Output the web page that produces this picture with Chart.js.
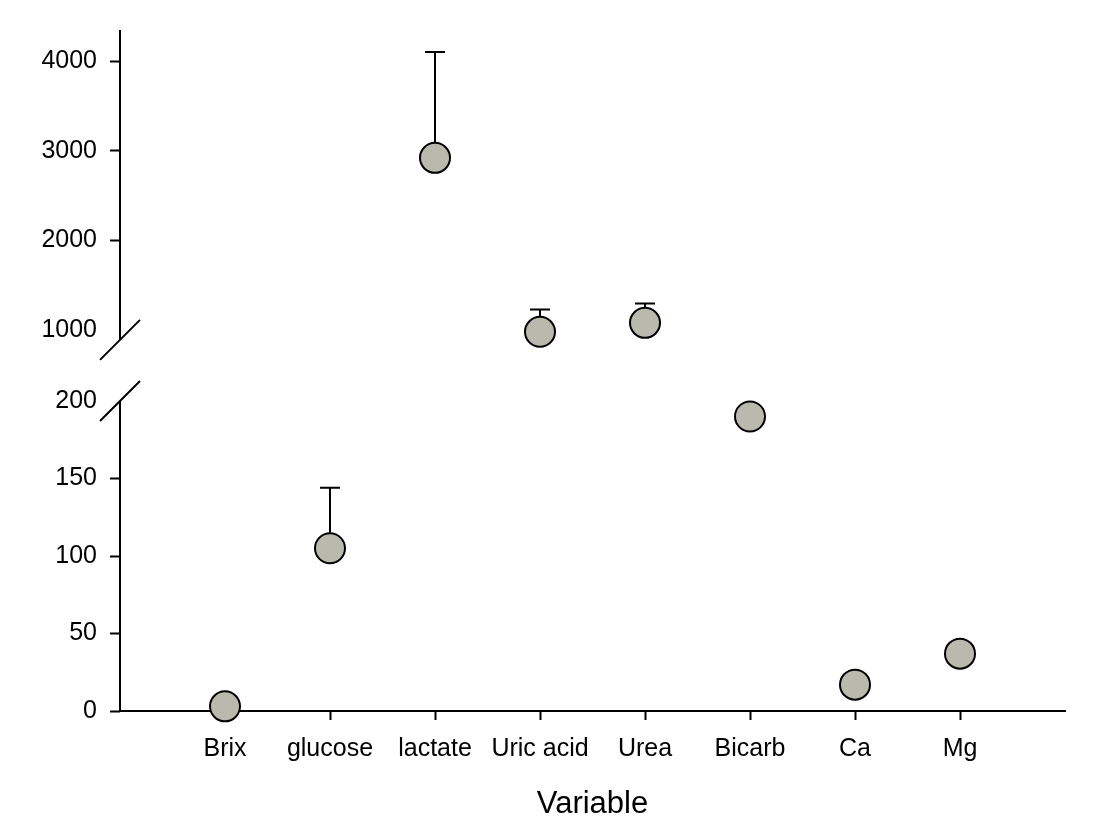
<!DOCTYPE html>
<html>
<head>
<meta charset="utf-8">
<script src="https://cdn.jsdelivr.net/npm/chart.js@4.4.0/dist/chart.umd.min.js"></script>
<style>
  html, body { margin: 0; padding: 0; background: #ffffff; }
  #wrap { width: 1104px; height: 819px; }
</style>
</head>
<body>
<div id="wrap"><canvas id="c" width="1104" height="819"></canvas></div>
<script>
// Mean and upward SD per variable
const categories = ['Brix', 'glucose', 'lactate', 'Uric acid', 'Urea', 'Bicarb', 'Ca', 'Mg'];
const meanValues = [3, 105, 2920, 980, 1080, 190, 17, 37];
const sdValues   = [null, 39, 1180, 250, 215, 15, null, null];

// Tick labels for the two segments of the broken y axis
const upperTicks = [1000, 2000, 3000, 4000];
const lowerTicks = [0, 50, 100, 150, 200];

// Visible extent of each axis segment
const LOWER_SEG_TOP = 200;
const UPPER_SEG_BOTTOM = 890;

const FONT = "'Liberation Sans', Arial, sans-serif";
const INK = '#000000';

function points(inUpper) {
  const out = [];
  categories.forEach((name, i) => {
    const v = meanValues[i];
    if ((v > LOWER_SEG_TOP) === inUpper) out.push({ x: i + 1, y: v, sd: sdValues[i] });
  });
  return out;
}

// Axis lines with break marks, plus one-sided error bars drawn under the markers
const brokenAxisPlugin = {
  id: 'brokenAxis',
  beforeDatasetsDraw(chart) {
    const ctx = chart.ctx;
    const up = chart.scales.yUp;
    const lo = chart.scales.yLo;
    const x0 = chart.chartArea.left;
    ctx.save();
    ctx.strokeStyle = INK;
    ctx.lineWidth = 2;
    ctx.lineCap = 'butt';

    const upTop = up.getPixelForValue(up.max);
    const upBot = up.getPixelForValue(UPPER_SEG_BOTTOM);
    const loTop = lo.getPixelForValue(LOWER_SEG_TOP);
    const loBot = lo.getPixelForValue(0);

    ctx.beginPath();
    ctx.moveTo(x0, upTop); ctx.lineTo(x0, upBot);
    ctx.moveTo(x0, loTop); ctx.lineTo(x0, loBot);
    const s = 20;
    ctx.moveTo(x0 - s, upBot + s); ctx.lineTo(x0 + s, upBot - s);
    ctx.moveTo(x0 - s, loTop + s); ctx.lineTo(x0 + s, loTop - s);
    ctx.stroke();

    chart.data.datasets.forEach((ds, di) => {
      const meta = chart.getDatasetMeta(di);
      const ys = chart.scales[ds.yAxisID];
      const limit = ds.yAxisID === 'yLo' ? LOWER_SEG_TOP : ys.max;
      meta.data.forEach((pt, i) => {
        const raw = ds.data[i];
        if (!raw || raw.sd == null) return;
        const topVal = raw.y + raw.sd;
        const clipped = topVal > limit;
        const yTopPx = ys.getPixelForValue(Math.min(topVal, limit));
        ctx.beginPath();
        ctx.moveTo(pt.x, pt.y);
        ctx.lineTo(pt.x, yTopPx);
        if (!clipped) {
          ctx.moveTo(pt.x - 10, yTopPx);
          ctx.lineTo(pt.x + 10, yTopPx);
        }
        ctx.stroke();
      });
    });
    ctx.restore();
  }
};

const pointStyle = {
  pointRadius: 15,
  pointHoverRadius: 15,
  pointBackgroundColor: '#b9baad',
  pointBorderColor: INK,
  pointBorderWidth: 2,
  showLine: false,
  clip: false
};

function yAxis(ticks, min, max, weight, hiddenTick) {
  return {
    type: 'linear',
    position: 'left',
    stack: 'broken',
    stackWeight: weight,
    min: min,
    max: max,
    afterBuildTicks: (scale) => { scale.ticks = ticks.map(v => ({ value: v })); },
    afterFit: (scale) => { scale.width = 120; },
    border: { display: false },
    grid: {
      drawOnChartArea: false,
      drawTicks: true,
      tickLength: 10,
      tickWidth: 2,
      tickColor: (c) => (c.tick && c.tick.value === hiddenTick) ? 'rgba(0,0,0,0)' : INK
    },
    ticks: {
      color: INK,
      padding: 13,
      font: { family: FONT, size: 25 },
      callback: (v) => String(v)
    }
  };
}

new Chart(document.getElementById('c'), {
  type: 'scatter',
  data: {
    datasets: [
      Object.assign({ label: 'upper', yAxisID: 'yUp', data: points(true) }, pointStyle),
      Object.assign({ label: 'lower', yAxisID: 'yLo', data: points(false) }, pointStyle)
    ]
  },
  options: {
    responsive: false,
    animation: false,
    events: [],
    layout: { padding: { top: 30, right: 39, bottom: 0, left: 0 } },
    plugins: { legend: { display: false }, tooltip: { enabled: false } },
    scales: {
      x: {
        type: 'linear',
        position: 'bottom',
        min: 0,
        max: categories.length + 1,
        afterBuildTicks: (scale) => { scale.ticks = categories.map((_, i) => ({ value: i + 1 })); },
        afterFit: (scale) => { scale.height = 108; },
        border: { display: true, color: INK, width: 2 },
        grid: { drawOnChartArea: false, drawTicks: true, tickLength: 9, tickWidth: 2, tickColor: INK },
        ticks: {
          color: INK,
          padding: 14,
          maxRotation: 0,
          autoSkip: false,
          font: { family: FONT, size: 25 },
          callback: (v) => categories[v - 1] || ''
        },
        title: {
          display: true,
          text: 'Variable',
          color: INK,
          font: { family: FONT, size: 31 },
          padding: { top: 0, bottom: -4 }
        }
      },
      // the later-listed left axis is stacked on top
      yLo: yAxis(lowerTicks, 0, 220, 341, 200),
      yUp: yAxis(upperTicks, 554, 4346, 340, 1000)
    }
  },
  plugins: [brokenAxisPlugin]
});
</script>
</body>
</html>
